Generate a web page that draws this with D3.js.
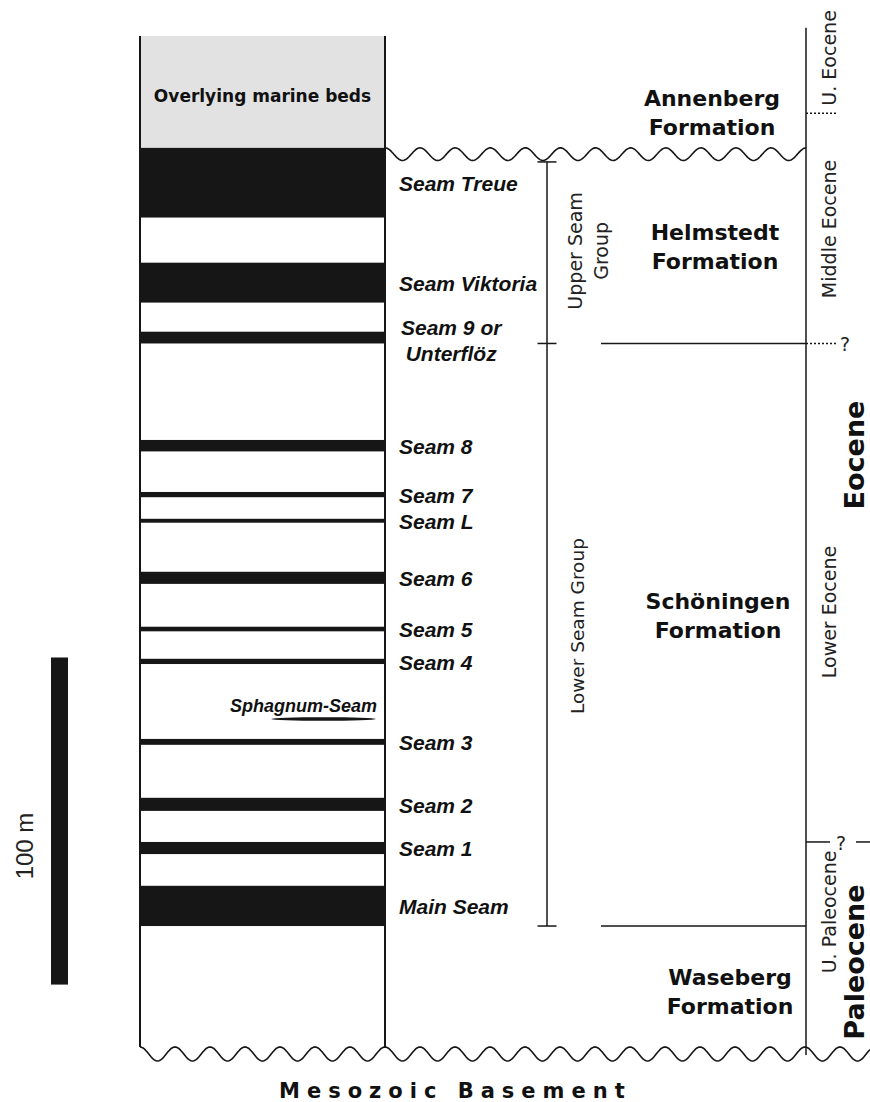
<!DOCTYPE html>
<html>
<head>
<meta charset="utf-8">
<script src="https://cdn.jsdelivr.net/npm/d3@7/dist/d3.min.js"></script>
<style>
  body { margin: 0; background: #fff; }
  .seam { font-family: 'Liberation Sans', Arial, sans-serif; font-weight: bold; font-style: italic; font-size: 21px; fill: #111; }
  .fm { font-family: 'DejaVu Sans', Verdana, sans-serif; font-weight: bold; font-size: 22px; fill: #111; }
  .reg { font-family: 'DejaVu Sans', Verdana, sans-serif; font-size: 19px; fill: #222; }
  .series { font-family: 'DejaVu Sans', Verdana, sans-serif; font-weight: bold; font-size: 27px; fill: #111; }
</style>
</head>
<body>
<svg id="chart" width="870" height="1102"></svg>
<script>
// all levels in metres above the Mesozoic basement
var seamNames = ['Seam Treue', 'Seam Viktoria', 'Seam 9 or|Unterflöz', 'Seam 8', 'Seam 7', 'Seam L',
  'Seam 6', 'Seam 5', 'Seam 4', 'Seam 3', 'Seam 2', 'Seam 1', 'Main Seam'];
var seamBase = [254.5, 228.5, 216, 183, 169, 161.2, 142.5, 128, 118, 93.3, 73.1, 59.9, 37.9];
var seamTop  = [275.8, 240.7, 219.6, 186.5, 170.6, 162.4, 146.2, 129.4, 119.6, 95.1, 77.1, 63.6, 50.2];

var marineBeds = [275.8, 310];
var marineLabel = 'Overlying marine beds';
var lensName = 'Sphagnum-Seam';
var lensLevel = 101.2;

var groupNames = ['Upper Seam|Group', 'Lower Seam Group'];
var groupTop = [271.5, 216];
var groupBase = [216, 37.9];
var groupLabelAt = [244.3, 129.6];

var formationNames = ['Annenberg|Formation', 'Helmstedt|Formation', 'Schöningen|Formation', 'Waseberg|Formation'];
var formationTop = [310, 275.8, 216, 37.9];
var formationBase = [275.8, 216, 37.9, 0];
var formationLabelAt = [286.6, 245.6, 132.8, 17.9];

var epochNames = ['U. Eocene', 'Middle Eocene', 'Lower Eocene', 'U. Paleocene'];
var epochTop = [312.5, 286.4, 216, 63.6];
var epochLabelAt = [303.3, 251, 133.9, 42.2];

var seriesNames = ['Eocene', 'Paleocene'];
var seriesLabelAt = [181.9, 26.9];

var scaleBarBase = 20, scaleBarLength = 100, scaleBarLabel = '100 m';
var basementLabel = 'Mesozoic Basement';

var svg = d3.select('#chart');
var y = d3.scaleLinear().domain([0, 310]).range([1050, 36]);
var colL = 140, colR = 385, lineX = 806, bracketX = 547;
var ink = '#161616';

function wavePath(x0, x1, yc, amp, period) {
  var pts = d3.range(x0, x1 + 0.5, 1).map(function(x) {
    return [x, yc - amp * Math.cos(2 * Math.PI * (x - x0) / period)];
  });
  return d3.line()(pts);
}

function vtext(x, yy, txt, cls) {
  return svg.append('text').attr('class', cls)
    .attr('transform', 'translate(' + x + ',' + yy + ') rotate(-90)')
    .attr('text-anchor', 'middle').text(txt);
}

// column
svg.append('rect').attr('x', colL).attr('y', y(marineBeds[1]))
  .attr('width', colR - colL).attr('height', y(marineBeds[0]) - y(marineBeds[1]))
  .attr('fill', '#e2e2e2');

svg.append('text').attr('x', (colL + colR) / 2).attr('y', (y(marineBeds[0]) + y(marineBeds[1])) / 2 + 10)
  .attr('text-anchor', 'middle').attr('class', 'fm').style('font-size', '17px').text(marineLabel);

svg.selectAll('rect.coal').data(seamNames).enter().append('rect').attr('class', 'coal')
  .attr('x', colL).attr('width', colR - colL)
  .attr('y', function(d, i) { return y(seamTop[i]); })
  .attr('height', function(d, i) { return y(seamBase[i]) - y(seamTop[i]); })
  .attr('fill', ink);

// seam labels
seamNames.forEach(function(name, i) {
  var mid = y((seamTop[i] + seamBase[i]) / 2);
  var lines = name.split('|');
  var t = svg.append('text').attr('class', 'seam');
  if (lines.length == 1) {
    t.attr('x', 399).attr('y', mid).attr('dy', '0.4em').text(name);
  } else {
    var first = t.append('tspan').attr('x', 401).attr('y', mid - 2.5).text(lines[0]);
    var w = first.node().getComputedTextLength();
    t.append('tspan').attr('x', 401 + w / 2).attr('text-anchor', 'middle')
      .attr('y', mid + 23.5).text(lines[1]);
  }
});

// sphagnum lens
svg.append('ellipse').attr('cx', 323.5).attr('cy', y(lensLevel)).attr('rx', 52).attr('ry', 1.8).attr('fill', ink);
svg.append('text').attr('class', 'seam').style('font-size', '18px')
  .attr('x', 377).attr('y', y(lensLevel) - 7).attr('text-anchor', 'end').text(lensName);

// column borders and unconformities
var waveTop = 1054;
svg.append('line').attr('x1', colL).attr('x2', colL).attr('y1', y(marineBeds[1])).attr('y2', waveTop - 7)
  .attr('stroke', ink).attr('stroke-width', 2);
svg.append('line').attr('x1', colR).attr('x2', colR).attr('y1', y(marineBeds[1])).attr('y2', waveTop - 7)
  .attr('stroke', ink).attr('stroke-width', 2);
svg.append('path').attr('d', wavePath(colR, lineX, y(marineBeds[0]) + 6.3, 6.3, 35.1))
  .attr('fill', 'none').attr('stroke', ink).attr('stroke-width', 1.6);
svg.append('path').attr('d', wavePath(colL, 870, waveTop, 7, 35))
  .attr('fill', 'none').attr('stroke', ink).attr('stroke-width', 1.6);

svg.append('text').attr('class', 'fm').style('font-size', '21px').style('letter-spacing', '7px')
  .attr('x', 279).attr('y', 1098).text(basementLabel);

// seam group brackets
svg.append('line').attr('x1', bracketX).attr('x2', bracketX)
  .attr('y1', y(groupTop[0])).attr('y2', y(groupBase[1]))
  .attr('stroke', ink).attr('stroke-width', 1.5);
[groupTop[0], groupTop[1], groupBase[1]].forEach(function(v) {
  svg.append('line').attr('x1', bracketX - 9.5).attr('x2', bracketX + 9.5)
    .attr('y1', y(v)).attr('y2', y(v)).attr('stroke', ink).attr('stroke-width', 1.5);
});
groupNames.forEach(function(name, i) {
  var lines = name.split('|');
  lines.forEach(function(l, j) {
    vtext(lines.length > 1 ? 582 + j * 26 : 584, y(groupLabelAt[i]), l, 'reg')
      .style('font-size', lines.length > 1 ? '19px' : '18.5px');
  });
});

// formation boundaries and names
[formationBase[1], formationBase[2]].forEach(function(v) {
  svg.append('line').attr('x1', 601).attr('x2', lineX).attr('y1', y(v)).attr('y2', y(v))
    .attr('stroke', ink).attr('stroke-width', 1.5);
});
formationNames.forEach(function(name, i) {
  var lines = name.split('|');
  var cx = [712, 715, 718, 730][i];
  var c = y(formationLabelAt[i]);
  lines.forEach(function(l, j) {
    svg.append('text').attr('class', 'fm').attr('text-anchor', 'middle')
      .attr('x', cx).attr('y', c - 14.5 + j * 29).attr('dy', '0.36em').text(l);
  });
});

// epoch column
svg.append('line').attr('x1', lineX).attr('x2', lineX).attr('y1', y(epochTop[0])).attr('y2', waveTop + 1)
  .attr('stroke', ink).attr('stroke-width', 1.5);
svg.append('line').attr('x1', lineX).attr('x2', 838).attr('y1', y(epochTop[1])).attr('y2', y(epochTop[1]))
  .attr('stroke', ink).attr('stroke-width', 1.5).attr('stroke-dasharray', '2,2');
svg.append('line').attr('x1', lineX).attr('x2', 838).attr('y1', y(epochTop[2])).attr('y2', y(epochTop[2]))
  .attr('stroke', ink).attr('stroke-width', 1.5).attr('stroke-dasharray', '2,2');
svg.append('text').attr('class', 'reg').attr('x', 840).attr('y', y(epochTop[2]) + 8).text('?');
svg.append('line').attr('x1', lineX).attr('x2', 830).attr('y1', y(epochTop[3])).attr('y2', y(epochTop[3]))
  .attr('stroke', ink).attr('stroke-width', 1.5);
svg.append('text').attr('class', 'reg').attr('x', 836).attr('y', y(epochTop[3]) + 8).text('?');
svg.append('line').attr('x1', 856).attr('x2', 870).attr('y1', y(epochTop[3])).attr('y2', y(epochTop[3]))
  .attr('stroke', ink).attr('stroke-width', 1.5);

epochNames.forEach(function(name, i) {
  vtext(836, y(epochLabelAt[i]), name, 'reg');
});
seriesNames.forEach(function(name, i) {
  vtext(864, y(seriesLabelAt[i]), name, 'series');
});

// scale bar
svg.append('rect').attr('x', 51).attr('width', 17)
  .attr('y', y(scaleBarBase + scaleBarLength))
  .attr('height', y(scaleBarBase) - y(scaleBarBase + scaleBarLength))
  .attr('fill', ink);
vtext(33, 846, scaleBarLabel, 'reg').style('font-family', "'Liberation Sans', Arial, sans-serif").style('font-size', '24px');
</script>
</body>
</html>
